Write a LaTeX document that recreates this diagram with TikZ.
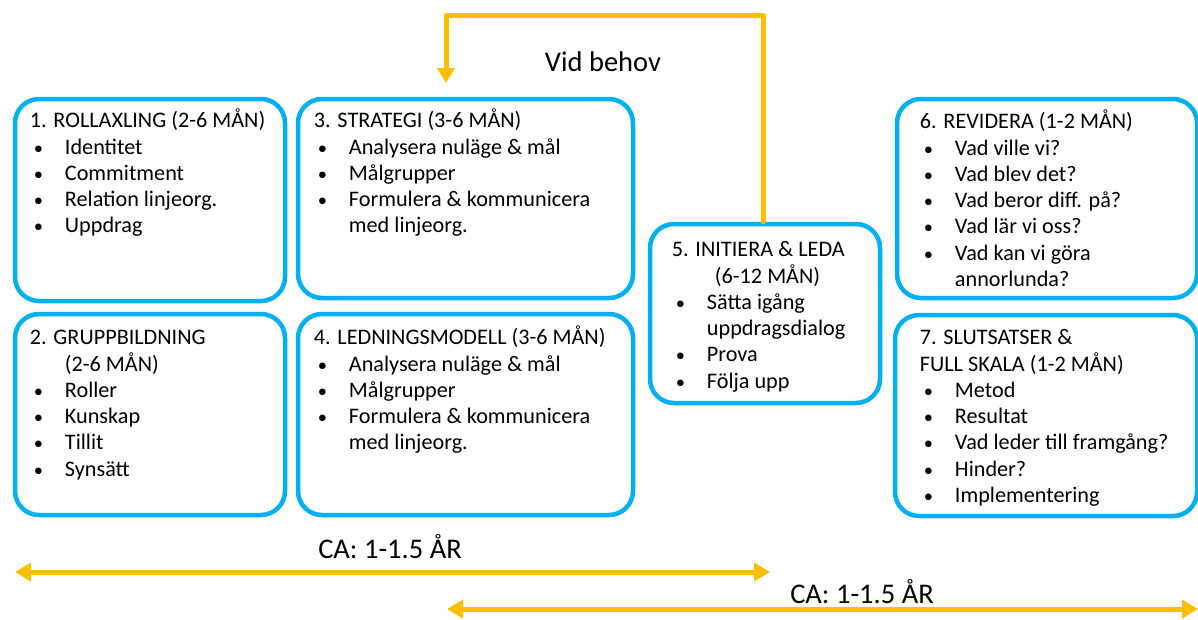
\documentclass[tikz,border=0pt]{standalone}
\usepackage{fontspec}
\setmainfont{Carlito}
\usepackage{tikz}
\usetikzlibrary{arrows.meta}
\definecolor{qqaaff}{rgb}{0.,0.69,0.94}
\definecolor{ffbbqq}{rgb}{1.,0.75,0.}
\newcommand{\bl}{\hspace*{4pt}{\fontsize{18.5}{18.5}\selectfont\textbullet}}
\newcommand{\hd}[1]{\multicolumn{2}{@{}l@{}}{#1}}
\newcommand{\phaselist}[1]{\begin{tabular}{@{}p{35pt}@{}l@{}}#1\end{tabular}}
\tikzstyle{phase}=[draw=qqaaff,line width=4.5pt,rounded corners=24pt,inner sep=0pt]
\tikzstyle{phasetext}=[anchor=north west,inner sep=0pt,align=left,font=\fontsize{22.2}{26.3}\selectfont]
\tikzstyle{bigtext}=[inner sep=0pt,font=\fontsize{28.5}{34}\selectfont]
\tikzstyle{flow}=[draw=ffbbqq,line width=5pt]

\begin{document}
\begin{tikzpicture}[line cap=round,line join=round,x=1pt,y=-1pt]
            \useasboundingbox (0,0) rectangle (1198,619);
            % boxes
            \node [phase,minimum width=270pt,minimum height=202pt] (rollax) at (150,200) {};
            \node [phase,minimum width=270pt,minimum height=201pt] (grupp) at (150,414.5) {};
            \node [phase,minimum width=335pt,minimum height=199pt] (strat) at (465.5,198.5) {};
            \node [phase,minimum width=335pt,minimum height=201pt] (ledmod) at (465.5,414.5) {};
            \node [phase,minimum width=230pt,minimum height=179pt] (initiera) at (765,313.5) {};
            \node [phase,minimum width=300pt,minimum height=199pt] (revid) at (1047,198.5) {};
            \node [phase,minimum width=302pt,minimum height=201pt] (slut) at (1046,415.5) {};
            % texts
            \node [phasetext] (rollaxtext) at ([xshift=17pt,yshift=-12pt]rollax.north west) {\phaselist{
              \hd{1. ROLLAXLING (2-6 MÅN)}\\
              \bl & Identitet\\
              \bl & Commitment\\
              \bl & Relation linjeorg.\\
              \bl & Uppdrag}};
            \node [phasetext] (gruppext) at ([xshift=17pt,yshift=-14pt]grupp.north west) {\phaselist{
              \hd{2. GRUPPBILDNING}\\
              & (2-6 MÅN)\\
              \bl & Roller\\
              \bl & Kunskap\\
              \bl & Tillit\\
              \bl & Synsätt}};
            \node [phasetext] (strattext) at ([xshift=18pt,yshift=-12pt]strat.north west) {\phaselist{
              \hd{3. STRATEGI (3-6 MÅN)}\\
              \bl & Analysera nuläge \& mål\\
              \bl & Målgrupper\\
              \bl & Formulera \& kommunicera\\
              & med linjeorg.}};
            \node [phasetext] (ledmodtext) at ([xshift=18pt,yshift=-14pt]ledmod.north west) {\phaselist{
              \hd{4. LEDNINGSMODELL (3-6 MÅN)}\\
              \bl & Analysera nuläge \& mål\\
              \bl & Målgrupper\\
              \bl & Formulera \& kommunicera\\
              & med linjeorg.}};
            \node [phasetext] (initieratext) at ([xshift=24pt,yshift=-16pt]initiera.north west) {\phaselist{
              \hd{5. INITIERA \& LEDA}\\
              & \hspace*{8pt}(6-12 MÅN)\\
              \bl & Sätta igång\\
              & uppdragsdialog\\
              \bl & Prova\\
              \bl & Följa upp}};
            \node [phasetext] (revidtext) at ([xshift=25pt,yshift=-13pt]revid.north west) {\phaselist{
              \hd{6. REVIDERA (1-2 MÅN)}\\
              \bl & Vad ville vi?\\
              \bl & Vad blev det?\\
              \bl & Vad beror diff. på?\\
              \bl & Vad lär vi oss?\\
              \bl & Vad kan vi göra\\
              & annorlunda?}};
            \node [phasetext] (sluttext) at ([xshift=27pt,yshift=-13pt]slut.north west) {\phaselist{
              \hd{7. SLUTSATSER \&}\\
              \hd{FULL SKALA (1-2 MÅN)}\\
              \bl & Metod\\
              \bl & Resultat\\
              \bl & Vad leder till framgång?\\
              \bl & Hinder?\\
              \bl & Implementering}};
            % feedback loop
            \coordinate (back) at (446,83);
            \draw [flow,-{Triangle[width=17pt,length=15pt]}] ([xshift=-2pt]initiera.north) -- ++(0,-206) -| (back);
            \node [bigtext] (vidbehov) at (603,62) {Vid behov};
            % durations
            \coordinate (spanAs) at (15,572);
            \coordinate (spanAe) at (770,572);
            \coordinate (spanBs) at (447,609);
            \coordinate (spanBe) at (1198,609);
            \draw [flow,{Triangle[width=18pt,length=16pt]}-{Triangle[width=18pt,length=16pt]}] (spanAs) -- (spanAe);
            \draw [flow,{Triangle[width=18pt,length=16pt]}-{Triangle[width=18pt,length=16pt]}] (spanBs) -- (spanBe);
            \node [bigtext] (durA) at (390,547) {CA: 1-1.5 ÅR};
            \node [bigtext] (durB) at (862,592) {CA: 1-1.5 ÅR};
\end{tikzpicture}
\end{document}
